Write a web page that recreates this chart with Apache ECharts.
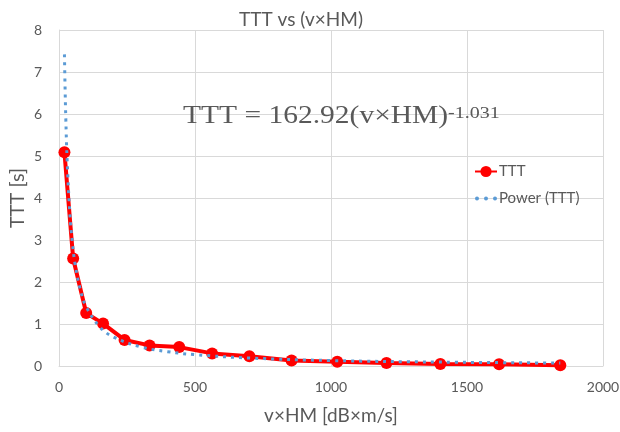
<!DOCTYPE html>
<html>
<head>
<meta charset="utf-8">
<script src="https://cdn.jsdelivr.net/npm/echarts@6/dist/echarts.min.js"></script>
<style>
html,body{margin:0;padding:0;background:#fff;}
#c{width:620px;height:432px;}
</style>
</head>
<body>
<div id="c"></div>
<script>
// Measured data (TTT vs v×HM)
var vhm = [20, 52, 100, 162, 241, 333, 442, 563, 700, 855, 1023, 1204, 1402, 1618, 1843];
var ttt = [5.09, 2.56, 1.26, 1.01, 0.62, 0.49, 0.45, 0.30, 0.23, 0.13, 0.10, 0.07, 0.05, 0.04, 0.02];
// Power trendline
var trendX = [20, 22, 25, 30, 40, 50, 60, 80, 100, 150, 200, 300, 400, 500, 700, 1000, 1400, 1843];
var trendY = [7.42, 6.73, 5.90, 4.89, 3.63, 2.89, 2.39, 1.78, 1.41, 0.93, 0.69, 0.455, 0.34, 0.27, 0.19, 0.13, 0.093, 0.07];
var xTicks = [0, 500, 1000, 1500, 2000];
var yTicks = [0, 1, 2, 3, 4, 5, 6, 7, 8];
var titleText = 'TTT vs (v×HM)';
var xName = 'v×HM [dB×m/s]';
var yName = 'TTT [s]';
var seriesNames = ['TTT', 'Power (TTT)'];
var eqMain = 'TTT = 162.92(v×HM)';
var eqExp = '-1.031';

function pairs(xs, ys) { return xs.map(function (x, i) { return [x, ys[i]]; }); }

var chart = echarts.init(document.getElementById('c'), null, {renderer: 'canvas'});
var font = 'Lato, "Open Sans", sans-serif';
var serif = '"Liberation Serif", "DejaVu Serif", serif';
var gray = '#595959';
var dotsIcon = 'path://M0,2a2,2 0 1,0 4,0a2,2 0 1,0 -4,0M9,2a2,2 0 1,0 4,0a2,2 0 1,0 -4,0M18,2a2,2 0 1,0 4,0a2,2 0 1,0 -4,0';
chart.setOption({
  backgroundColor: '#fff',
  animation: false,
  title: {
    text: titleText, left: 296, top: 5, textAlign: 'center',
    textStyle: {fontFamily: font, fontSize: 19, fontWeight: 'normal', color: gray}
  },
  grid: {left: 59, right: 17, top: 30, bottom: 66, containLabel: false, outerBoundsMode: 'none'},
  legend: {
    orient: 'vertical', left: 469, top: 159, itemWidth: 22, itemHeight: 14, itemGap: 12,
    textStyle: {fontFamily: font, fontSize: 15, color: gray, padding: [0, 0, 0, -3]},
    data: [
      {name: seriesNames[0]},
      {name: seriesNames[1], icon: dotsIcon, itemStyle: {color: '#5b9bd5'}}
    ]
  },
  xAxis: {
    type: 'value', min: xTicks[0], max: xTicks[xTicks.length - 1], interval: 500,
    name: xName, nameLocation: 'middle', nameGap: 40, nameMoveOverlap: false,
    nameTextStyle: {fontFamily: font, fontSize: 19, color: gray},
    axisLine: {show: true, lineStyle: {color: '#d9d9d9'}},
    axisTick: {show: false},
    axisLabel: {fontFamily: font, fontSize: 14, color: gray, margin: 14,
      formatter: function (v) { return String(v); }},
    splitLine: {show: true, lineStyle: {color: '#d9d9d9', width: 1}}
  },
  yAxis: {
    type: 'value', min: yTicks[0], max: yTicks[yTicks.length - 1], interval: 1,
    name: yName, nameLocation: 'middle', nameGap: 31, nameRotate: 90, nameMoveOverlap: false,
    nameTextStyle: {fontFamily: font, fontSize: 20, color: gray},
    axisLine: {show: true, lineStyle: {color: '#d9d9d9'}},
    axisTick: {show: false},
    axisLabel: {fontFamily: font, fontSize: 14, color: gray, margin: 17},
    splitLine: {show: true, lineStyle: {color: '#d9d9d9', width: 1}}
  },
  series: [
    {
      name: seriesNames[0], type: 'line', data: pairs(vhm, ttt),
      symbol: 'circle', symbolSize: 12,
      itemStyle: {color: '#ff0000'},
      lineStyle: {color: '#ff0000', width: 4},
      z: 2
    },
    {
      name: seriesNames[1], type: 'line', data: pairs(trendX, trendY),
      symbol: 'none', smooth: 0.4,
      itemStyle: {color: '#5b9bd5'},
      lineStyle: {color: '#5b9bd5', width: 3, type: [3, 5], cap: 'butt'},
      z: 3
    }
  ],
  graphic: [
    {
      type: 'text', x: 183, y: 116, scaleY: 0.85, z: 10,
      style: {text: eqMain, font: '29.5px ' + serif, fontFamily: serif, fontSize: 29.5,
        fill: '#595959', align: 'left', verticalAlign: 'middle', textAlign: 'left', textVerticalAlign: 'middle'}
    },
    {
      type: 'text', x: 448, y: 113.5, scaleY: 0.8, z: 10,
      style: {text: eqExp, font: '20px ' + serif, fontFamily: serif, fontSize: 20,
        fill: '#595959', align: 'left', verticalAlign: 'middle', textAlign: 'left', textVerticalAlign: 'middle'}
    }
  ]
});
</script>
</body>
</html>
